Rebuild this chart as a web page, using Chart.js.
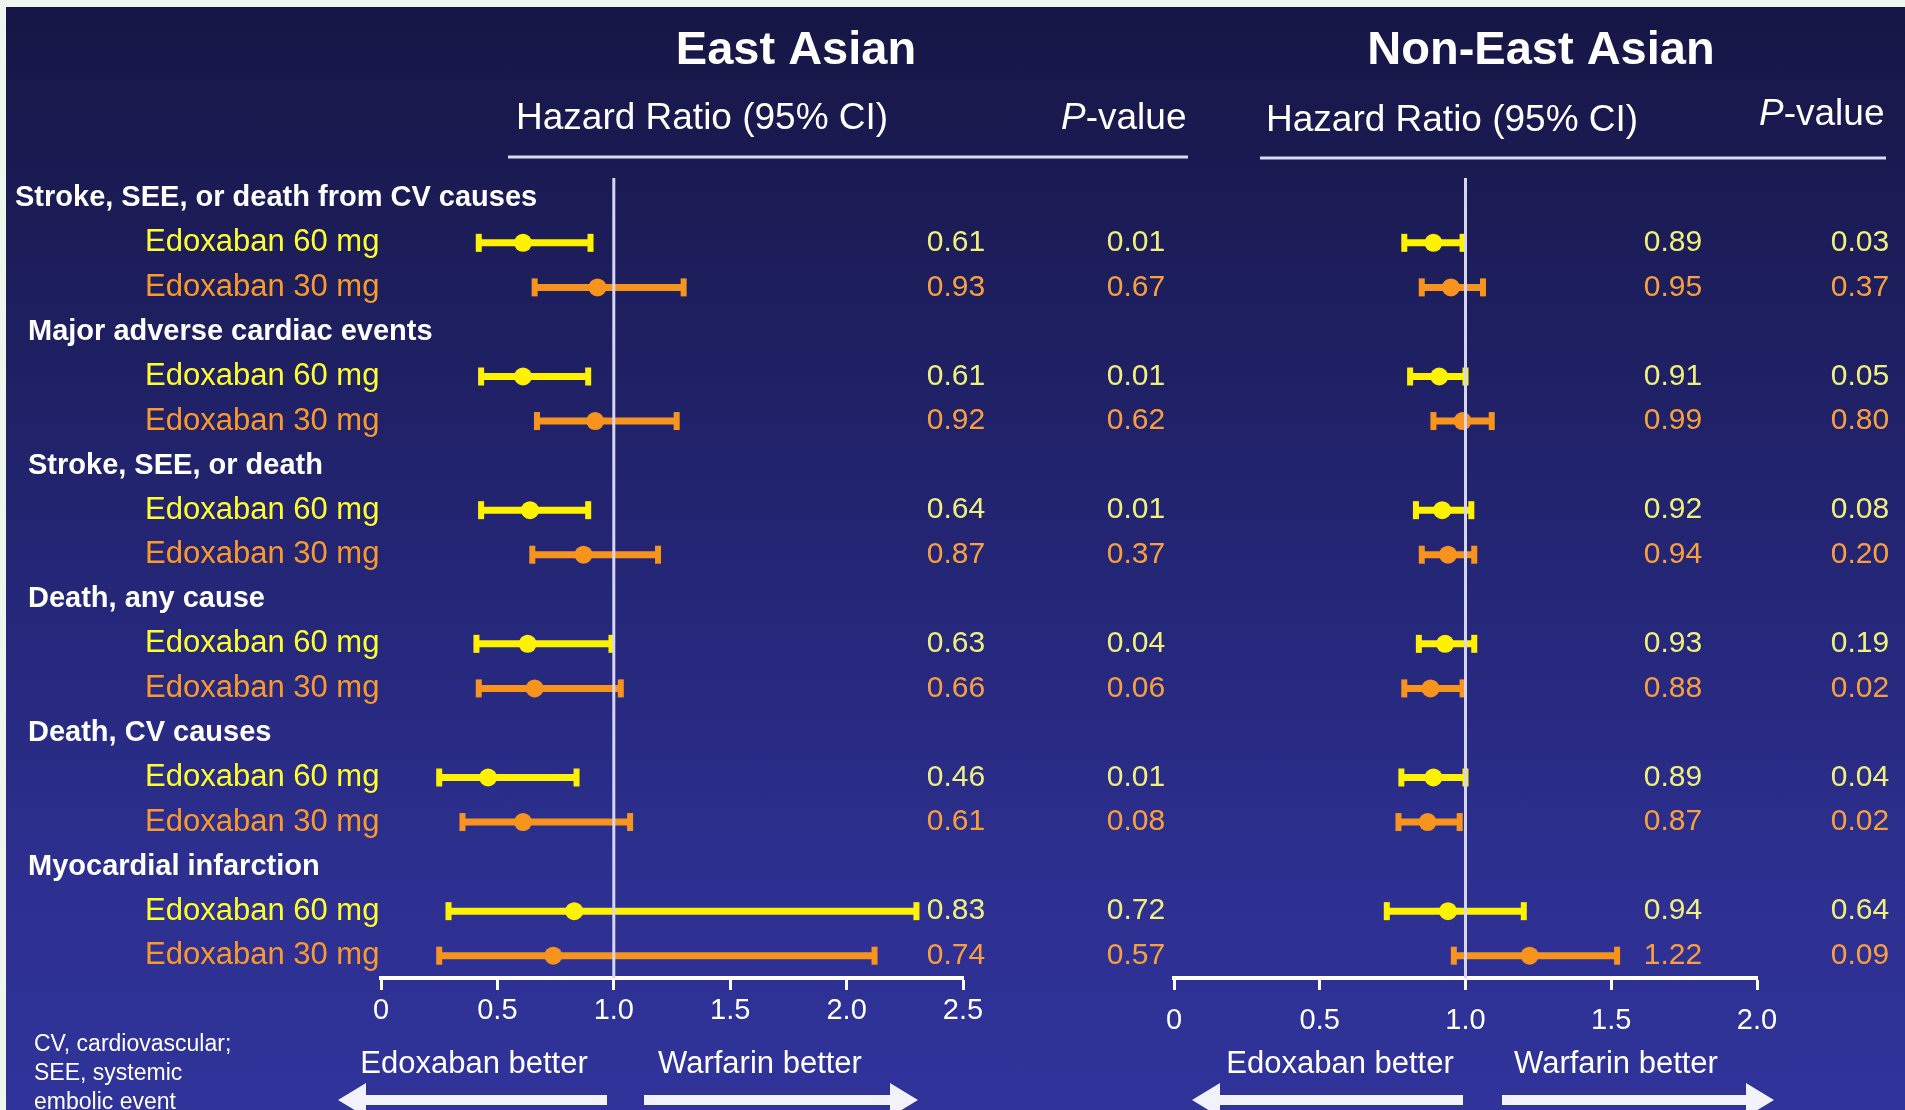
<!DOCTYPE html>
<html>
<head>
<meta charset="utf-8">
<script src="https://cdn.jsdelivr.net/npm/chart.js@4.4.1/dist/chart.umd.min.js"></script>
<style>
html,body{margin:0;padding:0;width:1905px;height:1110px;overflow:hidden;background:#eef6ee;}
#bg{position:absolute;left:6px;top:7px;right:0;bottom:0;
 background:linear-gradient(to bottom,#161645 0%,#1d1e5c 25%,#25277a 55%,#2d3090 80%,#30339a 100%);}
canvas{position:absolute;left:0;top:0;}
</style>
</head>
<body>
<div id="bg"></div>
<canvas id="east" width="1905" height="1110"></canvas>
<canvas id="noneast" width="1905" height="1110"></canvas>
<script>
// ---------- data ----------
const groups = [
  'Stroke, SEE, or death from CV causes',
  'Major adverse cardiac events',
  'Stroke, SEE, or death',
  'Death, any cause',
  'Death, CV causes',
  'Myocardial infarction'
];
const doses = ['Edoxaban 60 mg', 'Edoxaban 30 mg'];

// East Asian (order: group1 60, group1 30, group2 60, ...)
const eastHR = [0.61, 0.93, 0.61, 0.92, 0.64, 0.87, 0.63, 0.66, 0.46, 0.61, 0.83, 0.74];
const eastLo = [0.42, 0.66, 0.43, 0.67, 0.43, 0.65, 0.41, 0.42, 0.25, 0.35, 0.29, 0.25];
const eastHi = [0.90, 1.30, 0.89, 1.27, 0.89, 1.19, 0.99, 1.03, 0.84, 1.07, 2.30, 2.12];
const eastP  = ['0.01', '0.67', '0.01', '0.62', '0.01', '0.37', '0.04', '0.06', '0.01', '0.08', '0.72', '0.57'];

// Non-East Asian
const nonHR = [0.89, 0.95, 0.91, 0.99, 0.92, 0.94, 0.93, 0.88, 0.89, 0.87, 0.94, 1.22];
const nonLo = [0.79, 0.85, 0.81, 0.89, 0.83, 0.85, 0.84, 0.79, 0.78, 0.77, 0.73, 0.96];
const nonHi = [0.99, 1.06, 1.00, 1.09, 1.02, 1.03, 1.03, 0.99, 1.00, 0.98, 1.20, 1.52];
const nonP  = ['0.03', '0.37', '0.05', '0.80', '0.08', '0.20', '0.19', '0.02', '0.04', '0.02', '0.64', '0.09'];

const eastTicks = ['0', '0.5', '1.0', '1.5', '2.0', '2.5'];
const nonTicks  = ['0', '0.5', '1.0', '1.5', '2.0'];

// ---------- styles ----------
const FONT = "'Liberation Sans', Arial, Helvetica, sans-serif";
const markColor = ['#fff200', '#f7941d'];
const labelColor = ['#ffff2e', '#fa9a2c'];
const valueColor = ['#f0f07e', '#f8a040'];
const WHITE = '#ffffff';

// category keys for rows: group header, then each dose
const rowKeys = [];
groups.forEach(g => { rowKeys.push(g); doses.forEach(d => rowKeys.push(g + ' | ' + d)); });
const rowKey = i => groups[Math.floor(i / 2)] + ' | ' + doses[i % 2];

function txt(ctx, s, x, y, font, color, align, base) {
  ctx.font = font; ctx.fillStyle = color;
  ctx.textAlign = align || 'left'; ctx.textBaseline = base || 'middle';
  ctx.fillText(s, x, y);
}
function pValueHeader(ctx, x, y) {
  ctx.textBaseline = 'middle'; ctx.textAlign = 'left'; ctx.fillStyle = WHITE;
  ctx.font = 'italic 37px ' + FONT;
  ctx.fillText('P', x, y);
  const w = ctx.measureText('P').width;
  ctx.font = '37px ' + FONT;
  ctx.fillText('-value', x + w, y);
}
function arrow(ctx, xTail, xTip, y) {
  const dir = xTip > xTail ? 1 : -1;
  const head = 28, half = 17, sh = 5;
  const xb = xTip - dir * head;
  ctx.fillStyle = '#f2f2fb';
  ctx.beginPath();
  ctx.moveTo(xTail, y - sh); ctx.lineTo(xb, y - sh); ctx.lineTo(xb, y - half);
  ctx.lineTo(xTip, y); ctx.lineTo(xb, y + half); ctx.lineTo(xb, y + sh);
  ctx.lineTo(xTail, y + sh); ctx.closePath(); ctx.fill();
}

function whiskerPlugin(lo, hi) {
  return {
    id: 'whiskers',
    beforeDatasetsDraw(chart) {
      const ctx = chart.ctx, xs = chart.scales.x, ys = chart.scales.y;
      ctx.save();
      lo.forEach((l, i) => {
        const y = ys.getPixelForValue(rowKeys.indexOf(rowKey(i)));
        const x1 = xs.getPixelForValue(l), x2 = xs.getPixelForValue(hi[i]);
        ctx.strokeStyle = markColor[i % 2]; ctx.fillStyle = markColor[i % 2];
        ctx.lineWidth = 7; ctx.lineCap = 'butt';
        ctx.beginPath(); ctx.moveTo(x1, y); ctx.lineTo(x2, y); ctx.stroke();
        ctx.fillRect(x1 - 3, y - 9, 6, 18);
        ctx.fillRect(x2 - 3, y - 9, 6, 18);
      });
      ctx.restore();
    },
    afterDatasetsDraw(chart) {
      const ctx = chart.ctx, xs = chart.scales.x, a = chart.chartArea;
      const x = xs.getPixelForValue(1);
      ctx.save();
      ctx.strokeStyle = '#d6d6f2'; ctx.lineWidth = 3;
      ctx.beginPath(); ctx.moveTo(x, a.top + 2); ctx.lineTo(x, a.bottom); ctx.stroke();
      ctx.restore();
    }
  };
}

function textPlugin(cfg) {
  return {
    id: 'texts',
    afterDraw(chart) {
      const ctx = chart.ctx, ys = chart.scales.y;
      ctx.save();
      // titles and headers
      txt(ctx, cfg.title, cfg.titleX, 51, 'bold 47px ' + FONT, WHITE, 'center');
      txt(ctx, 'Hazard Ratio (95% CI)', cfg.hrHeadX, cfg.hrHeadY, '37px ' + FONT, WHITE, 'left');
      pValueHeader(ctx, cfg.pHeadX, cfg.pHeadY);
      ctx.strokeStyle = '#dcdcf0'; ctx.lineWidth = 3;
      ctx.beginPath(); ctx.moveTo(cfg.ruleX1, cfg.ruleY); ctx.lineTo(cfg.ruleX2, cfg.ruleY); ctx.stroke();
      // row labels (east panel only)
      if (cfg.rowLabels) {
        groups.forEach((g, gi) => {
          const y = ys.getPixelForValue(rowKeys.indexOf(g));
          txt(ctx, g, gi === 0 ? 15 : 28, y, 'bold 29px ' + FONT, WHITE, 'left');
        });
        cfg.hr.forEach((v, i) => {
          const y = ys.getPixelForValue(rowKeys.indexOf(rowKey(i)));
          txt(ctx, doses[i % 2], 145, y, '31px ' + FONT, labelColor[i % 2], 'left');
        });
      }
      // values
      cfg.hr.forEach((v, i) => {
        const y = ys.getPixelForValue(rowKeys.indexOf(rowKey(i)));
        txt(ctx, v.toFixed(2), cfg.hrValX, y, '30px ' + FONT, valueColor[i % 2], 'center');
        txt(ctx, cfg.p[i], cfg.pValX, y, '30px ' + FONT, valueColor[i % 2], 'center');
      });
      // direction labels and arrows
      txt(ctx, 'Edoxaban better', cfg.edoX, 1064, '31px ' + FONT, WHITE, 'center');
      txt(ctx, 'Warfarin better', cfg.warX, 1064, '31px ' + FONT, WHITE, 'center');
      arrow(ctx, cfg.arrL[0], cfg.arrL[1], 1100);
      arrow(ctx, cfg.arrR[0], cfg.arrR[1], 1100);
      // footnote
      if (cfg.footnote) {
        ['CV, cardiovascular;', 'SEE, systemic', 'embolic event'].forEach((s, k) => {
          txt(ctx, s, 34, 1045 + k * 29, '23px ' + FONT, WHITE, 'left');
        });
      }
      ctx.restore();
    }
  };
}

function makePanel(id, hr, lo, hi, p, ticks, xmax, padL, padR, tickPad, cfg) {
  cfg.hr = hr; cfg.p = p;
  return new Chart(document.getElementById(id), {
    type: 'scatter',
    data: {
      datasets: [{
        data: hr.map((v, i) => ({ x: v, y: rowKey(i) })),
        pointRadius: 9, pointHoverRadius: 9,
        pointBackgroundColor: hr.map((v, i) => markColor[i % 2]),
        pointBorderWidth: 0, pointBorderColor: 'rgba(0,0,0,0)'
      }]
    },
    options: {
      responsive: false, animation: false, events: [],
      layout: { padding: { left: padL, right: padR, top: 176, bottom: 72 } },
      plugins: { legend: { display: false }, tooltip: { enabled: false } },
      scales: {
        x: {
          type: 'linear', min: 0, max: xmax,
          afterFit: s => { s.height = 60; },
          ticks: {
            stepSize: 0.5, autoSkip: false, maxRotation: 0, color: WHITE,
            font: { family: FONT, size: 29 }, padding: tickPad,
            callback: (v, i) => ticks[i]
          },
          grid: { display: true, drawOnChartArea: false, drawTicks: true, tickLength: 12, tickWidth: 3, tickColor: WHITE },
          border: { display: true, color: WHITE, width: 4 }
        },
        y: { type: 'category', labels: rowKeys, offset: true, display: false }
      }
    },
    plugins: [whiskerPlugin(lo, hi), textPlugin(cfg)]
  });
}

makePanel('east', eastHR, eastLo, eastHi, eastP, eastTicks, 2.5, 381, 1905 - 963, 4, {
  title: 'East Asian', titleX: 796,
  hrHeadX: 516, hrHeadY: 119, pHeadX: 1061, pHeadY: 119,
  ruleX1: 508, ruleX2: 1188, ruleY: 157,
  hrValX: 956, pValX: 1136,
  edoX: 474, warX: 760, arrL: [607, 338], arrR: [644, 918],
  rowLabels: true, footnote: true
});
makePanel('noneast', nonHR, nonLo, nonHi, nonP, nonTicks, 2.0, 1174, 1905 - 1757, 14, {
  title: 'Non-East Asian', titleX: 1541,
  hrHeadX: 1266, hrHeadY: 121, pHeadX: 1759, pHeadY: 115,
  ruleX1: 1260, ruleX2: 1886, ruleY: 158,
  hrValX: 1673, pValX: 1860,
  edoX: 1340, warX: 1616, arrL: [1463, 1192], arrR: [1502, 1774],
  rowLabels: false, footnote: false
});
</script>
</body>
</html>
